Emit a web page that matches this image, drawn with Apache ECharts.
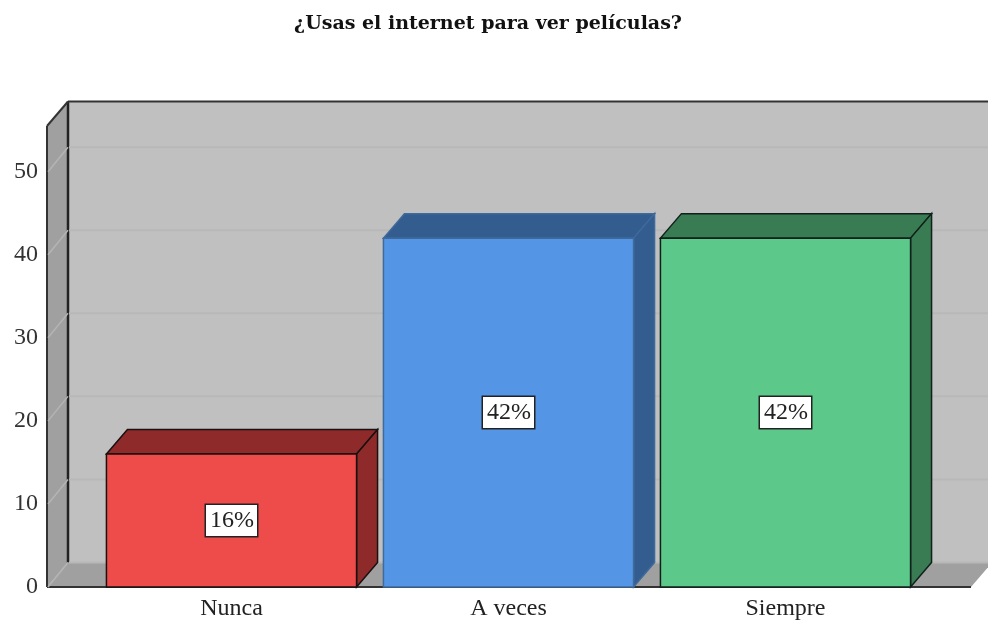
<!DOCTYPE html>
<html>
<head>
<meta charset="utf-8">
<style>
  html, body { margin: 0; padding: 0; background: #fff; }
  #chart { width: 988px; height: 621px; }
</style>
<script src="https://cdn.jsdelivr.net/npm/echarts@6/dist/echarts.min.js"></script>
</head>
<body>
<div id="chart"></div>
<script>
const categories = ['Nunca', 'A veces', 'Siempre']
const values = [16, 42, 42]
const percentLabels = ['16%', '42%', '42%']
const yTicks = [0, 10, 20, 30, 40, 50]
const frontColors = ['#EE4B4B', '#5595E6', '#5CC98A']
const sideColors = ['#8F2A2A', '#335C8F', '#397B53']
const edgeColors = ['#1a1010', '#3F6A9C', '#10201a']

// 3d look: how far the back plane is shifted from the front plane
const depthX = 21
const depthY = -24.5
// the walls are wider than the category bands
const padLeft = 46
const padRight = 47
const serif = '"Liberation Serif", serif'

const chart = echarts.init(document.getElementById('chart'))

function poly (points, fill, stroke, width) {
  return {
    type: 'polygon',
    shape: { points: points },
    style: { fill: fill, stroke: stroke || null, lineWidth: width || 0 }
  }
}

function line (x1, y1, x2, y2, color, width) {
  return {
    type: 'line',
    shape: { x1: x1, y1: y1, x2: x2, y2: y2 },
    style: { stroke: color, lineWidth: width }
  }
}

function renderWalls (params) {
  const c = params.coordSys
  const left = c.x - padLeft
  const right = c.x + c.width + padRight
  const top = c.y
  const bottom = c.y + c.height
  return {
    type: 'group',
    children: [
      poly([[left + depthX, top + depthY], [right + depthX, top + depthY], [right + depthX, bottom + depthY], [left + depthX, bottom + depthY]], '#C0C0C0'),
      poly([[left, top], [left + depthX, top + depthY], [left + depthX, bottom + depthY], [left, bottom]], '#A0A0A0'),
      poly([[left, bottom], [left + depthX, bottom + depthY], [right + depthX, bottom + depthY], [right, bottom]], '#A0A0A0'),
      line(left + depthX, top + depthY, left + depthX, bottom + depthY, '#222', 2.5),
      line(left + depthX, top + depthY, right + depthX, top + depthY, '#333', 2),
      line(left, top, left, bottom, '#333', 2),
      line(left, top, left + depthX, top + depthY, '#333', 2),
      line(left, bottom, right, bottom, '#333', 2)
    ]
  }
}

function renderGridLine (params, api) {
  const c = params.coordSys
  const y = api.coord([0, api.value(0)])[1]
  const left = c.x - padLeft
  const right = c.x + c.width + padRight
  return {
    type: 'group',
    children: [
      line(left + 1, y, left + depthX, y + depthY, '#B4B4B4', 1.5),
      line(left + depthX + 1, y + depthY, right + depthX, y + depthY, '#B8B8B8', 2)
    ]
  }
}

function renderBar (params, api) {
  const i = params.dataIndex
  const top = api.coord([i, api.value(1)])
  const base = api.coord([i, 0])
  const mid = api.coord([i, api.value(1) / 2])
  const w = api.size([1, 0])[0] * 0.903
  const x0 = top[0] - w / 2
  const x1 = top[0] + w / 2
  const edge = edgeColors[i]
  return {
    type: 'group',
    children: [
      poly([[x0, top[1]], [x0 + depthX, top[1] + depthY], [x1 + depthX, top[1] + depthY], [x1, top[1]]], sideColors[i], edge, 1.5),
      poly([[x1, top[1]], [x1 + depthX, top[1] + depthY], [x1 + depthX, base[1] + depthY], [x1, base[1]]], sideColors[i], edge, 1.5),
      poly([[x0, top[1]], [x1, top[1]], [x1, base[1]], [x0, base[1]]], frontColors[i], edge, 1.5),
      {
        type: 'text',
        x: mid[0],
        y: mid[1],
        style: {
          text: percentLabels[i],
          align: 'center',
          verticalAlign: 'middle',
          font: '24px ' + serif,
          fill: '#222',
          backgroundColor: '#fff',
          borderColor: '#222',
          borderWidth: 1.5,
          padding: [4, 3, 3, 4]
        }
      }
    ]
  }
}

const option = {
  animation: false,
  backgroundColor: '#fff',
  title: {
    text: '¿Usas el internet para ver películas?',
    left: 483,
    top: 10,
    textAlign: 'center',
    textStyle: {
      fontFamily: '"DejaVu Serif", serif',
      fontSize: 19,
      fontWeight: 'bold',
      color: '#111'
    }
  },
  grid: { left: 93, width: 831, top: 126, height: 462 },
  xAxis: {
    type: 'category',
    data: categories,
    axisLine: { show: false },
    axisTick: { show: false },
    axisLabel: { fontFamily: serif, fontSize: 24, color: '#222', margin: 10 }
  },
  yAxis: {
    type: 'value',
    min: 0,
    max: 55.5,
    interval: 10,
    axisLine: { show: false },
    axisTick: { show: false },
    splitLine: { show: false },
    axisLabel: { fontFamily: serif, fontSize: 24, color: '#333', margin: 55, padding: [4, 0, 0, 0], showMaxLabel: false }
  },
  series: [
    { type: 'custom', renderItem: renderWalls, data: [0], silent: true, encode: { x: 0, y: 0 } },
    { type: 'custom', renderItem: renderGridLine, data: yTicks.map(function (t) { return [t] }), silent: true, encode: { y: 0 } },
    { type: 'custom', renderItem: renderBar, data: values.map(function (v, i) { return [i, v] }), encode: { x: 0, y: 1 } }
  ]
}
chart.setOption(option)
</script>
</body>
</html>
